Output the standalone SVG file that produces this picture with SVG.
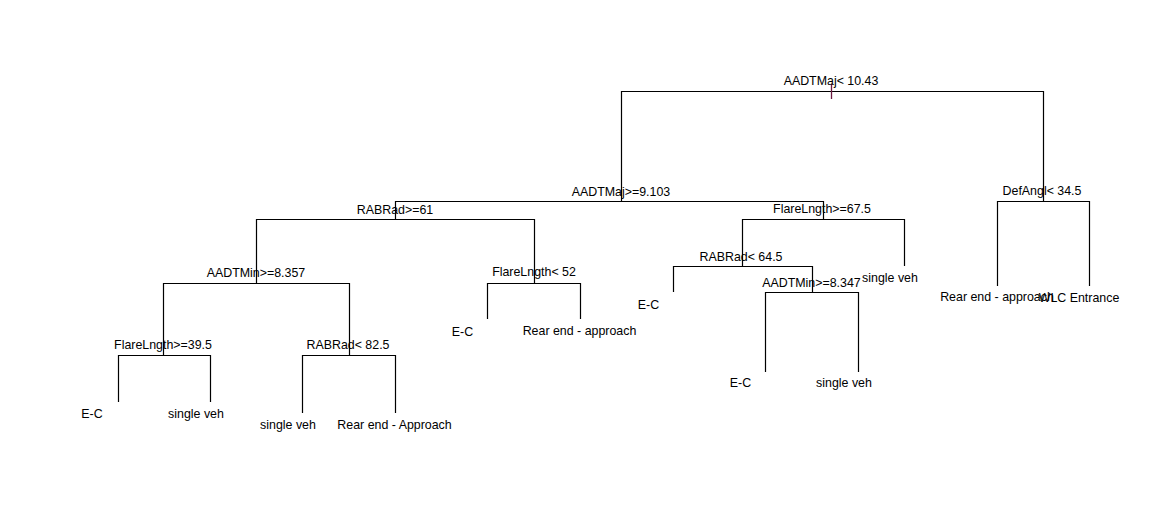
<svg xmlns="http://www.w3.org/2000/svg" width="1169" height="524" viewBox="0 0 1169 524">
<style>
.e{stroke:#000;stroke-width:1.2;fill:none}
text{font-family:"Liberation Sans",Arial,sans-serif;font-size:12.4px;fill:#000;text-anchor:middle}
</style>
<rect width="1169" height="524" fill="#fff"/>
<g id="connectors">
<path class="e" d="M621.5 201V91.5H1043.5V201"/>
<path class="e" d="M395.5 219V201.5H823.5V219"/>
<path class="e" d="M256.5 283V219.5H534.5V283"/>
<path class="e" d="M163.5 355V283.5H349.5V355"/>
<path class="e" d="M118.5 402V355.5H210.5V402"/>
<path class="e" d="M302.5 413V355.5H395.5V413"/>
<path class="e" d="M487.5 319V283.5H580.5V319"/>
<path class="e" d="M742.5 266V219.5H904.5V266"/>
<path class="e" d="M673.5 292V266.5H812.5V292"/>
<path class="e" d="M765.5 372V292.5H858.5V372"/>
<path class="e" d="M997.5 286V201.5H1089.5V286"/>
<path d="M831.5 84V99" stroke="#6a1a40" stroke-width="1.3"/>
</g>
<g id="n-root"><text x="831" y="85">AADTMaj&lt; 10.43</text></g>
<g id="n-aadtmaj"><text x="621" y="196">AADTMaj&gt;=9.103</text></g>
<g id="n-rabrad61"><text x="395" y="214">RABRad&gt;=61</text></g>
<g id="n-aadtmin8357"><text x="256" y="277">AADTMin&gt;=8.357</text></g>
<g id="n-flare395"><text x="163" y="349">FlareLngth&gt;=39.5</text></g>
<g id="n-leaf-ec1"><text x="92" y="418">E-C</text></g>
<g id="n-leaf-sv1"><text x="196" y="418">single veh</text></g>
<g id="n-rabrad825"><text x="348" y="349">RABRad&lt; 82.5</text></g>
<g id="n-leaf-sv2"><text x="288" y="429">single veh</text></g>
<g id="n-leaf-re1"><text x="394.5" y="429">Rear end - Approach</text></g>
<g id="n-flare52"><text x="534" y="276">FlareLngth&lt; 52</text></g>
<g id="n-leaf-ec2"><text x="462.5" y="336">E-C</text></g>
<g id="n-leaf-re2"><text x="579.5" y="335">Rear end - approach</text></g>
<g id="n-flare675"><text x="822" y="213">FlareLngth&gt;=67.5</text></g>
<g id="n-leaf-sv3"><text x="890" y="282">single veh</text></g>
<g id="n-rabrad645"><text x="741" y="261">RABRad&lt; 64.5</text></g>
<g id="n-leaf-ec3"><text x="648.5" y="309">E-C</text></g>
<g id="n-aadtmin8347"><text x="811.5" y="287">AADTMin&gt;=8.347</text></g>
<g id="n-leaf-ec4"><text x="740.5" y="387">E-C</text></g>
<g id="n-leaf-sv4"><text x="844" y="387">single veh</text></g>
<g id="n-defangl"><text x="1042" y="195">DefAngl&lt; 34.5</text></g>
<g id="n-leaf-re3"><text x="997" y="301">Rear end - approach</text></g>
<g id="n-leaf-wlc"><text x="1079" y="302">WLC Entrance</text></g>
</svg>
